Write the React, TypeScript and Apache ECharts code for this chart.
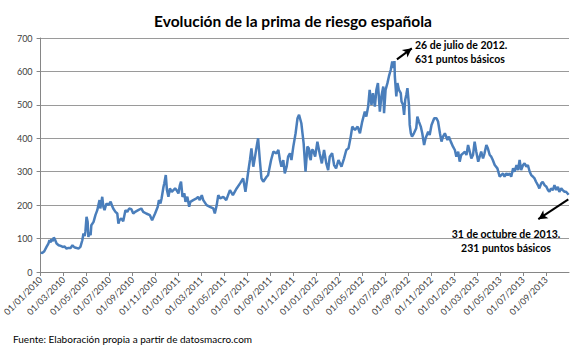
import React, { useEffect, useRef } from "react";
import * as echarts from "echarts";

// Prima de riesgo (puntos básicos), fecha "MM-DD" por año
const y2010: [string, number][] = [
  ["01-01", 58], ["01-06", 57], ["01-11", 62], ["01-17", 75], ["01-22", 85], ["01-25", 95],
  ["01-28", 88], ["01-30", 98], ["02-02", 92], ["02-05", 103], ["02-07", 100], ["02-12", 85],
  ["02-17", 80], ["02-22", 78], ["02-27", 75], ["03-04", 76], ["03-09", 70], ["03-14", 72],
  ["03-20", 72], ["03-25", 80], ["03-30", 74], ["04-05", 72], ["04-10", 70], ["04-15", 75],
  ["04-20", 95], ["04-23", 115], ["04-26", 108], ["04-28", 120], ["05-01", 165], ["05-04", 150],
  ["05-06", 105], ["05-09", 118], ["05-12", 110], ["05-14", 140], ["05-20", 150], ["05-25", 170],
  ["05-30", 185], ["06-02", 200], ["06-05", 215], ["06-07", 190], ["06-10", 210], ["06-12", 225],
  ["06-15", 195], ["06-18", 185], ["06-23", 205], ["06-28", 200], ["07-04", 210], ["07-09", 195],
  ["07-11", 190], ["07-17", 180], ["07-22", 175], ["07-25", 145], ["07-28", 155], ["08-02", 160],
  ["08-07", 152], ["08-13", 185], ["08-18", 180], ["08-23", 190], ["08-29", 188], ["09-03", 175],
  ["09-08", 180], ["09-16", 185], ["09-24", 190], ["09-29", 180], ["10-07", 175], ["10-17", 170],
  ["10-23", 155], ["10-31", 175], ["11-07", 195], ["11-10", 215], ["11-14", 205], ["11-17", 220],
  ["11-22", 255], ["11-24", 265], ["11-28", 290], ["12-01", 245], ["12-05", 225], ["12-09", 250],
  ["12-14", 240], ["12-23", 250], ["12-27", 245],
];

const y2011: [string, number][] = [
  ["01-01", 235], ["01-05", 260], ["01-08", 270], ["01-12", 225], ["01-17", 235], ["01-20", 210],
  ["01-25", 225], ["01-30", 195], ["02-02", 210], ["02-09", 215], ["02-17", 220], ["02-21", 225],
  ["02-25", 215], ["03-02", 230], ["03-06", 215], ["03-15", 200], ["03-24", 195], ["04-02", 190],
  ["04-06", 175], ["04-11", 200], ["04-15", 230], ["04-20", 220], ["04-28", 225], ["05-06", 215],
  ["05-16", 245], ["05-24", 230], ["06-03", 250], ["06-12", 265], ["06-20", 280], ["06-26", 240],
  ["07-04", 305], ["07-08", 335], ["07-12", 370], ["07-17", 315], ["07-21", 340], ["07-26", 375],
  ["07-30", 400], ["08-04", 330], ["08-08", 280], ["08-13", 270], ["08-22", 285], ["08-26", 290],
  ["09-03", 335], ["09-09", 360], ["09-17", 355], ["09-22", 365], ["09-26", 335], ["09-30", 315],
  ["10-05", 335], ["10-09", 295], ["10-14", 315], ["10-18", 345], ["10-23", 355], ["10-27", 335],
  ["11-01", 375], ["11-07", 415], ["11-12", 460], ["11-16", 470], ["11-22", 445], ["11-25", 415],
  ["11-28", 385], ["12-03", 300], ["12-08", 375], ["12-12", 370], ["12-14", 345], ["12-17", 335],
  ["12-20", 365], ["12-23", 365], ["12-29", 345],
];

const y2012: [string, number][] = [
  ["01-04", 390], ["01-10", 355], ["01-16", 325], ["01-22", 365], ["01-28", 325], ["02-02", 305],
  ["02-06", 345], ["02-12", 355], ["02-17", 320], ["02-22", 310], ["02-28", 335], ["03-07", 315],
  ["03-14", 340], ["03-20", 365], ["03-26", 370], ["04-01", 405], ["04-05", 435], ["04-12", 425],
  ["04-19", 435], ["04-25", 415], ["05-01", 450], ["05-08", 480], ["05-12", 465], ["05-17", 495],
  ["05-21", 545], ["05-26", 500], ["05-30", 535], ["06-04", 495], ["06-08", 545], ["06-12", 565],
  ["06-17", 480], ["06-21", 525], ["06-26", 555], ["06-28", 475], ["07-02", 545], ["07-07", 565],
  ["07-11", 585], ["07-16", 605], ["07-20", 630], ["07-24", 610], ["07-26", 631], ["07-27", 585],
  ["07-31", 525], ["08-03", 565], ["08-07", 545], ["08-12", 535], ["08-14", 510], ["08-18", 500],
  ["08-21", 470], ["08-24", 515], ["08-27", 530], ["08-30", 550], ["09-03", 500], ["09-05", 440],
  ["09-08", 415], ["09-11", 405], ["09-16", 415], ["09-22", 430], ["09-25", 465], ["09-29", 450],
  ["10-04", 435], ["10-08", 415], ["10-13", 380], ["10-17", 400], ["10-24", 420], ["10-28", 410],
  ["11-02", 440], ["11-09", 460], ["11-15", 460], ["11-19", 450], ["11-24", 415], ["11-28", 390],
  ["12-02", 405], ["12-07", 415], ["12-14", 395], ["12-18", 405], ["12-23", 390], ["12-29", 375],
];

const y2013: [string, number][] = [
  ["01-03", 365], ["01-07", 345], ["01-12", 360], ["01-16", 330], ["01-20", 350], ["01-25", 355],
  ["01-30", 360], ["02-03", 350], ["02-07", 380], ["02-11", 360], ["02-15", 340], ["02-19", 350],
  ["02-23", 390], ["02-27", 360], ["03-04", 330], ["03-08", 345], ["03-12", 360], ["03-17", 340],
  ["03-21", 355], ["03-26", 380], ["03-30", 370], ["04-04", 350], ["04-08", 345], ["04-12", 335],
  ["04-17", 320], ["04-24", 310], ["04-30", 285], ["05-04", 290], ["05-09", 295], ["05-13", 285],
  ["05-18", 295], ["05-22", 290], ["05-27", 295], ["05-31", 285], ["06-05", 310], ["06-09", 300],
  ["06-14", 320], ["06-18", 305], ["06-22", 335], ["06-26", 305], ["07-01", 320], ["07-05", 325],
  ["07-10", 315], ["07-14", 320], ["07-19", 300], ["07-23", 290], ["07-28", 285], ["08-01", 280],
  ["08-05", 270], ["08-10", 260], ["08-14", 250], ["08-19", 265], ["08-23", 270], ["08-28", 260],
  ["09-02", 255], ["09-06", 245], ["09-10", 240], ["09-14", 250], ["09-19", 245], ["09-23", 260],
  ["09-28", 245], ["10-02", 255], ["10-06", 240], ["10-11", 250], ["10-15", 245], ["10-20", 240],
  ["10-24", 240], ["10-31", 231],
];

const years: [number, [string, number][]][] = [[2010, y2010], [2011, y2011], [2012, y2012], [2013, y2013]];

const yTicks = { min: 0, max: 700, interval: 100 };
const monthRange = { min: 0, max: 46, interval: 2 };

const titleText = "Evolución de la prima de riesgo española";
const note1 = ["26 de julio de 2012.", "631 puntos básicos"];
const note2 = ["31 de octubre de 2013.", "231 puntos básicos"];
const sourceText = "Fuente: Elaboración propia a partir de datosmacro.com";

// arrow endpoints in [monthIndex, value]
const arrow1: [number, number][] = [[31.02, 636], [32.32, 669]];
const arrow2: [number, number][] = [[45.94, 217], [43.33, 158]];

function toMonthIndex(year: number, md: string): number {
  const [mo, d] = md.split("-").map(Number);
  const dim = new Date(year, mo, 0).getDate();
  return (year - 2010) * 12 + (mo - 1) + (d - 1) / dim;
}

function monthLabel(m: number): string {
  const y = 2010 + Math.floor(m / 12);
  const mo = (Math.round(m) % 12) + 1;
  return "01/" + String(mo).padStart(2, "0") + "/" + y;
}

const FONT = "Lato";

export default function App() {
  const ref = useRef<HTMLDivElement>(null);
  useEffect(() => {
    if (!ref.current) return;
    document.body.style.margin = "0";
    const chart = echarts.init(ref.current, undefined, { renderer: "svg" });
    const data: [number, number][] = [];
    years.forEach(([yr, arr]) => arr.forEach(([md, v]) => data.push([toMonthIndex(yr, md), v])));

    chart.setOption({
      animation: false,
      backgroundColor: "#ffffff",
      title: {
        text: titleText,
        left: "center",
        top: 8,
        textStyle: { fontFamily: FONT, fontWeight: "bold", fontSize: 15.5, color: "#000" },
      },
      grid: { left: 40, right: 17, top: 38, bottom: 79, containLabel: false },
      xAxis: {
        type: "value",
        min: monthRange.min,
        max: monthRange.max,
        interval: monthRange.interval,
        axisLine: { show: true, lineStyle: { color: "#868686", width: 1 } },
        axisTick: { show: true, length: 4, lineStyle: { color: "#868686" } },
        splitLine: { show: false },
        axisLabel: {
          rotate: 45,
          fontFamily: FONT,
          fontSize: 9,
          color: "#404040",
          margin: 6,
          showMaxLabel: false,
          formatter: (v: number) => (v >= monthRange.max ? "" : monthLabel(v)),
        },
      },
      yAxis: {
        type: "value",
        min: yTicks.min,
        max: yTicks.max,
        interval: yTicks.interval,
        axisLine: { show: true, lineStyle: { color: "#868686", width: 1 } },
        axisTick: { show: true, length: 4, lineStyle: { color: "#868686" } },
        splitLine: { show: true, lineStyle: { color: "#9a9a9a", width: 1 } },
        axisLabel: { fontFamily: FONT, fontSize: 9, color: "#404040", margin: 8 },
      },
      series: [
        {
          type: "line",
          data,
          showSymbol: false,
          symbol: "none",
          lineStyle: { color: "#4a7ebb", width: 2.5 },
          markLine: {
            silent: true,
            symbol: ["none", "arrow"],
            symbolSize: [7, 9],
            label: { show: false },
            lineStyle: { color: "#000", width: 2, type: "solid" },
            data: [
              [{ coord: arrow1[0] }, { coord: arrow1[1] }],
              [{ coord: arrow2[0] }, { coord: arrow2[1] }],
            ],
          },
        },
      ],
      graphic: [
        {
          type: "text",
          left: 415,
          top: 38,
          style: { text: note1.join("\n"), fontFamily: FONT, fontWeight: "bold", fontSize: 10.5, lineHeight: 14, fill: "#000" },
        },
        {
          type: "text",
          x: 506,
          y: 227,
          style: { text: note2.join("\n"), fontFamily: FONT, fontWeight: "bold", fontSize: 10.5, lineHeight: 14, fill: "#000", align: "center" },
        },
        {
          type: "text",
          left: 13,
          top: 334,
          style: { text: sourceText, fontFamily: FONT, fontSize: 10, fill: "#000" },
        },
      ],
    });
    return () => chart.dispose();
  }, []);
  return <div ref={ref} style={{ width: 586, height: 351 }} />;
}
